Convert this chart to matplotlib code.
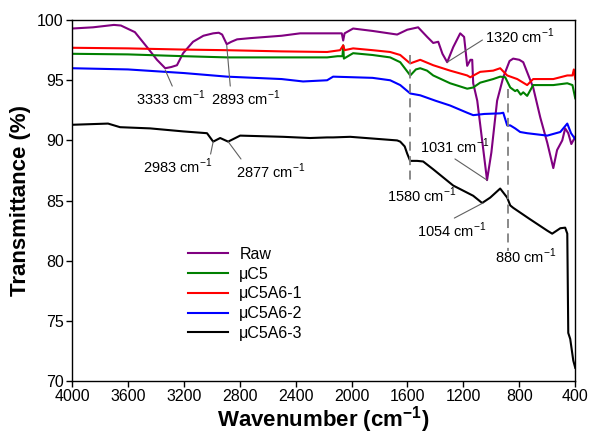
import matplotlib
matplotlib.use("Agg")
import matplotlib.pyplot as plt

plt.rcParams["font.family"] = ["Liberation Sans", "DejaVu Sans"]
plt.rcParams["mathtext.fontset"] = "custom"#superscripts en la misma fuente
plt.rcParams["mathtext.rm"] = "Liberation Sans"
plt.rcParams["mathtext.bf"] = "Liberation Sans:bold"

# espectros FTIR (numero de onda, transmitancia %)
raw_x = [4000, 3850, 3700, 3650, 3550, 3463, 3392, 3333, 3290, 3249, 3205, 3134, 3060, 2990, 2950,
         2926, 2893, 2860, 2819, 2726, 2500, 2368, 2175, 2070, 2060, 2050, 1989, 1850, 1674, 1602,
         1524, 1459, 1416, 1380, 1350, 1316, 1273, 1223, 1195, 1173, 1150, 1137, 1130, 1101, 1066,
         1031, 1000, 959, 915, 870, 844, 800, 772, 701, 650, 600, 557, 530, 493, 472, 450, 428, 400]
raw_y = [99.3, 99.4, 99.6, 99.55, 99.0, 97.75, 96.7, 96.0, 96.1, 96.25, 97.25, 98.2, 98.7, 98.9, 98.95,
         98.8, 98.0, 98.2, 98.4, 98.5, 98.7, 98.9, 98.9, 98.9, 98.3, 98.9, 99.3, 99.1, 98.8, 99.2,
         99.4, 98.6, 98.1, 98.2, 97.2, 96.5, 97.75, 98.9, 98.6, 96.2, 96.7, 96.7, 94.75, 93.3, 90.0,
         86.7, 89.0, 93.3, 95.25, 96.6, 96.8, 96.7, 96.5, 94.4, 91.9, 89.8, 87.7, 89.2, 90.0, 91.0, 90.6, 89.7, 90.3]

c5_x = [4000, 3600, 3200, 2890, 2500, 2175, 2100, 2065, 2060, 2055, 1989, 1850, 1724, 1652, 1580,
        1540, 1509, 1460, 1416, 1295, 1173, 1130, 1080, 987, 937, 901, 865, 830, 815, 790, 772,
        744, 701, 557, 457, 420, 400]
c5_y = [97.2, 97.15, 97.0, 96.9, 96.9, 96.9, 97.0, 97.0, 97.9, 96.8, 97.25, 97.1, 96.9, 96.5, 95.4,
        95.9, 96.0, 95.8, 95.4, 94.75, 94.3, 94.4, 94.8, 95.1, 95.3, 95.25, 94.4, 94.1, 94.2, 93.8, 94.0,
        93.7, 94.6, 94.6, 94.75, 94.6, 93.5]

c5a61_x = [4000, 3600, 3200, 2900, 2500, 2175, 2082, 2060, 2050, 1989, 1850, 1724, 1652, 1581, 1509,
           1416, 1295, 1173, 1151, 1080, 987, 937, 887, 815, 744, 701, 557, 457, 420, 410, 400]
c5a61_y = [97.7, 97.65, 97.55, 97.5, 97.4, 97.35, 97.5, 97.9, 97.5, 97.65, 97.5, 97.35, 97.1, 96.4, 96.7,
           96.25, 95.8, 95.4, 95.25, 95.7, 95.8, 96.0, 95.4, 95.1, 94.6, 95.1, 95.1, 95.4, 95.4, 95.9, 95.1]

c5a62_x = [4000, 3600, 3200, 2890, 2500, 2347, 2175, 2132, 1989, 1850, 1724, 1652, 1580, 1509, 1400,
           1295, 1173, 1130, 1050, 937, 915, 887, 865, 830, 794, 744, 600, 507, 457, 430, 400]
c5a62_y = [96.0, 95.9, 95.6, 95.3, 95.1, 94.9, 95.0, 95.3, 95.25, 95.2, 95.0, 94.6, 93.9, 93.75, 93.3,
           92.9, 92.3, 92.1, 92.2, 92.25, 92.3, 91.25, 91.25, 91.0, 90.7, 90.6, 90.4, 90.7, 91.4, 90.6, 90.1]

c5a63_x = [4000, 3742, 3656, 3441, 3205, 3034, 2990, 2940, 2883, 2797, 2490, 2297, 2175, 2132, 2010,
           1674, 1652, 1620, 1602, 1581, 1531, 1488, 1416, 1273, 1130, 1066, 1008, 937, 887, 865, 844, 730,
           600, 565, 507, 472, 457, 450, 436, 414, 400]
c5a63_y = [91.3, 91.4, 91.1, 91.0, 90.75, 90.6, 89.9, 90.2, 89.9, 90.4, 90.3, 90.2, 90.25, 90.25, 90.3,
           90.0, 89.9, 89.5, 88.9, 88.3, 88.3, 88.25, 87.6, 86.25, 85.4, 84.8, 85.25, 86.0, 85.25, 84.6, 84.4, 83.5,
           82.5, 82.25, 82.7, 82.75, 82.25, 74.0, 73.5, 71.7, 71.1]

series = [
    ("Raw", raw_x, raw_y, "#800080"),
    ("\u03bcC5", c5_x, c5_y, "#008000"),
    ("\u03bcC5A6-1", c5a61_x, c5a61_y, "#ff0000"),
    ("\u03bcC5A6-2", c5a62_x, c5a62_y, "#0000ff"),
    ("\u03bcC5A6-3", c5a63_x, c5a63_y, "#000000"),
]

# lineas guia verticales (x, y arriba, y abajo)
guias = [(1580, 97.1, 86.5), (880, 94.3, 80.8)]

# etiquetas de picos: texto, punto del pico, posicion del texto, relpos de la linea
picos = [
    ("3333", (3333, 95.85), (3542, 92.93), (0.54, 1.0)),
    ("2893", (2893, 97.9), (3005, 92.93), (0.28, 1.0)),
    ("1320", (1316, 96.5), (1044, 98.1), (0.0, 0.4)),
    ("1031", (1031, 86.7), (1509, 88.94), (0.44, 0.0)),
    ("1580", None, (1745, 84.87), None),
    ("1054", (1060, 84.8), (1531, 81.96), (0.46, 1.0)),
    ("880", None, (973, 79.8), None),
    ("2983", (2990, 89.9), (3492, 87.28), (0.96, 0.9)),
    ("2877", (2883, 89.9), (2826, 86.87), (0.1, 1.0)),
]

fig = plt.figure(figsize=(5.9, 4.37), dpi=100)
ax = fig.add_axes([0.122, 0.128, 0.853, 0.826])

for nombre, xs, ys, color in series:
    ax.plot(xs, ys, color=color, lw=1.5, label=nombre)

for x, y0, y1 in guias:
    ax.plot([x, x], [y0, y1], color="#808080", lw=1.3, ls=(0, (5, 3)))

for txt, xy, xyt, rp in picos:
    label = txt + " cm$^{-1}$"
    if xy is None:
        ax.text(xyt[0], xyt[1], label, fontsize=10.5, ha="left", va="baseline")
    else:
        ax.annotate(label, xy=xy, xytext=xyt, fontsize=10.5, ha="left", va="baseline",
                    arrowprops=dict(arrowstyle="-", color="#606060", lw=0.8, relpos=rp,
                                    shrinkA=0, shrinkB=0))

ax.set_xlim(4000, 400)#eje invertido
ax.set_ylim(70, 100)
ax.set_xticks(range(4000, 399, -400))
ax.set_yticks(range(70, 101, 5))
ax.tick_params(direction="out", length=4, width=1, labelsize=11.5, pad=2)
for s in ax.spines.values():
    s.set_linewidth(1)

ax.set_xlabel("Wavenumber (cm$^{\\mathbf{-1}}$)", fontsize=16, fontweight="bold", labelpad=0)
ax.set_ylabel("Transmittance (%)", fontsize=16, fontweight="bold", labelpad=4)

ax.legend(loc="upper left", bbox_to_anchor=(0.231, 0.372), frameon=False, fontsize=11.5,
          handlelength=2.5, handletextpad=0.7, labelspacing=0.3, borderaxespad=0, borderpad=0)

fig.savefig("out.png", dpi=100)
plt.close(fig)
